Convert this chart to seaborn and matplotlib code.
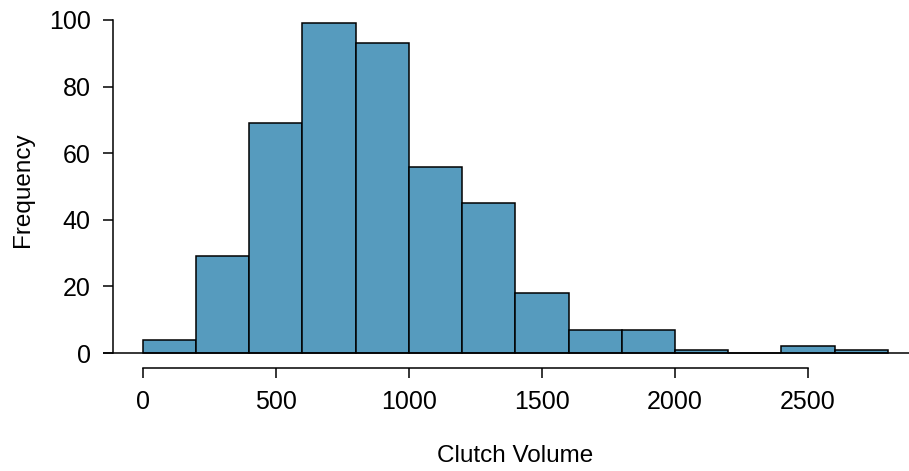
import numpy as np
import pandas as pd
import matplotlib
matplotlib.use('Agg')
import matplotlib.pyplot as plt
import seaborn as sns

bin_edges = [0, 200, 400, 600, 800, 1000, 1200, 1400, 1600, 1800, 2000, 2200, 2400, 2600, 2800]
counts = [4, 29, 69, 99, 93, 56, 45, 18, 7, 7, 1, 0, 2, 1]
x_ticks = [0, 500, 1000, 1500, 2000, 2500]
y_ticks = [0, 20, 40, 60, 80, 100]

mids = [(a + b) / 2 for a, b in zip(bin_edges[:-1], bin_edges[1:])]
df = pd.DataFrame({'Clutch Volume': mids, 'count': counts})

sns.set_style('white')
plt.rcParams['font.family'] = ['Liberation Sans', 'DejaVu Sans']
plt.rcParams['text.color'] = 'black'
plt.rcParams['axes.labelcolor'] = 'black'
plt.rcParams['xtick.color'] = 'black'
plt.rcParams['ytick.color'] = 'black'

fig = plt.figure(figsize=(9.09, 4.71), dpi=100)
ax = fig.add_axes([0.1133, 0.2187, 0.8867, 0.7601])

sns.histplot(data=df, x='Clutch Volume', weights='count', bins=bin_edges,
             color='#569BBE', alpha=1, edgecolor='black', linewidth=1.1, ax=ax)
ax.axhline(0, color='black', lw=1.1)

ax.set_xlim(-150, 2880)
ax.set_ylim(-4.5, 103)
ax.set_xticks(x_ticks)
ax.set_yticks(y_ticks)

for s in ['top', 'right']:
    ax.spines[s].set_visible(False)
ax.spines['left'].set_position(('data', -113))
ax.spines['left'].set_bounds(0, 100)
ax.spines['bottom'].set_bounds(0, 2500)
for s in ['left', 'bottom']:
    ax.spines[s].set_color('black')
    ax.spines[s].set_linewidth(1.1)

ax.tick_params(axis='both', direction='out', length=7, width=1.1, color='black',
               labelcolor='black', labelsize=18, pad=9, left=True, bottom=True)

ax.set_xlabel('Clutch Volume', fontsize=17.5, color='black')
ax.set_ylabel('Frequency', fontsize=17.5, color='black')
ax.xaxis.set_label_coords(0.511, -0.215)
ax.yaxis.set_label_coords(-0.086, 0.497)

plt.savefig('out.png', dpi=100)
